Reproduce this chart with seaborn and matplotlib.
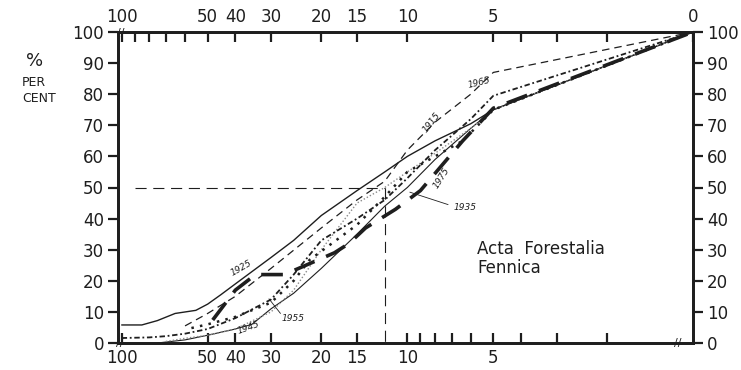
import matplotlib
matplotlib.use("Agg")
import matplotlib.pyplot as plt
import seaborn as sns
import pandas as pd

sns.set_theme(style="white")
plt.rcParams["font.family"] = ["DejaVu Sans"]

# ---------------- data ----------------
x_1915 = [60, 50, 40, 30, 20, 15, 12, 10, 8, 6, 5, 1]
y_1915 = [5.5, 9.5, 15, 24, 37, 46, 52, 62, 71, 80, 87, 100]

x_1925 = [100, 85, 75, 65, 55, 50, 45, 40, 30, 25, 20, 15, 12, 10, 8, 6, 5, 1]
y_1925 = [5.8, 5.8, 7.2, 9.5, 10.5, 12.5, 15.5, 19, 27.5, 33, 41, 49, 55, 60, 65, 70.5, 75, 100]

x_1935 = [75, 60, 50, 40, 35, 30, 25, 20, 15, 12, 10, 8, 6, 5, 1]
y_1935 = [0, 1, 2.5, 4.5, 6, 11, 16, 24, 35, 44, 50, 59, 69, 75, 100]

x_1945 = [70, 60, 50, 40, 30, 25, 20, 15, 12, 10, 8, 6, 5, 1]
y_1945 = [0.5, 1.5, 2.5, 4.5, 10, 17, 30, 45, 50, 55, 61, 69, 75, 100]

x_1955 = [57, 50, 40, 30, 25, 22, 15, 12, 10, 8, 6.4, 5, 1]
y_1955 = [4.8, 6, 8.4, 13, 20, 26.7, 38, 47, 55, 60, 65, 75, 100]

x_1965 = [100, 80, 70, 60, 50, 40, 30, 25, 20, 15, 12, 10, 8, 6, 5, 1]
y_1965 = [1.6, 1.8, 2.2, 3, 4.5, 8, 14, 22, 33, 40, 46, 53, 62, 72, 79.5, 100]

x_1975 = [48, 40, 34, 30, 27, 24, 18, 16, 14, 11, 9, 6.4, 5, 1]
y_1975 = [7.4, 17, 22, 22, 22, 24, 29, 32, 37, 43, 49, 65, 75.5, 100]

years = ["1915", "1925", "1935", "1945", "1955", "1965", "1975"]
series = {
    "1915": (x_1915, y_1915), "1925": (x_1925, y_1925), "1935": (x_1935, y_1935),
    "1945": (x_1945, y_1945), "1955": (x_1955, y_1955), "1965": (x_1965, y_1965),
    "1975": (x_1975, y_1975),
}

# median reference (50 % point)
ref_x = 12
ref_y = 50
ref_start = 90

bottom_ticks = [100, 50, 40, 30, 20, 15, 10, 5]
bottom_labels = ["100", "50", "40", "30", "20", "15", "10", "5"]
bottom_minor = [9, 8, 7, 6, 4, 3, 2]
top_ticks = [100, 50, 40, 30, 20, 15, 10, 5, 1]
top_labels = ["100", "50", "40", "30", "20", "15", "10", "5", "0"]
top_minor = [90, 80, 70, 60, 4, 3, 2]
y_ticks = list(range(0, 101, 10))

# ---------------- styles ----------------
ink = "#1e1e1e"
styles = {
    "1915": dict(color=ink, lw=0.9, linestyle=(0, (6, 4))),
    "1925": dict(color=ink, lw=1.0, linestyle="-"),
    "1935": dict(color=ink, lw=0.8, linestyle="-"),
    "1945": dict(color="#8a8a8a", lw=1.0, linestyle=(0, (1, 1.5))),
    "1955": dict(color=ink, lw=1.8, linestyle=(0, (1, 2.5))),
    "1965": dict(color=ink, lw=1.3, linestyle=(0, (3, 1.5, 1, 1.5))),
    "1975": dict(color=ink, lw=2.6, linestyle=(0, (6, 3.5))),
}

fig = plt.figure(figsize=(7.41, 3.70), dpi=100)
ax = fig.add_axes([118 / 741, 1 - 343 / 370, (693 - 118) / 741, (343 - 32) / 370])

for yr in years:
    xs, ys = series[yr]
    df = pd.DataFrame({"x": xs, "y": ys})
    sns.lineplot(data=df, x="x", y="y", ax=ax, sort=False, estimator=None, **styles[yr])

# reference dashed lines
ax.plot([ref_start, ref_x], [ref_y, ref_y], color=ink, lw=0.8, linestyle=(0, (10, 6)))
ax.plot([ref_x, ref_x], [ref_y, 0], color=ink, lw=0.8, linestyle=(0, (10, 6)))

ax.set_xscale("log")
ax.set_xlim(103, 1)
ax.set_ylim(0, 100)
ax.set_xlabel("")
ax.set_ylabel("")

# bottom x-axis
ax.set_xticks(bottom_ticks)
ax.set_xticklabels(bottom_labels)
ax.set_xticks(bottom_minor, minor=True)
ax.xaxis.set_minor_formatter(matplotlib.ticker.NullFormatter())
ax.tick_params(axis="x", which="both", direction="in", length=7, width=1.6,
               colors=ink, labelsize=12, pad=4, bottom=True, top=False)

# y-axis both sides
ax.set_yticks(y_ticks)
ax.set_yticklabels([str(v) for v in y_ticks])
ax.tick_params(axis="y", which="both", direction="out", length=7, width=1.6,
               colors=ink, labelsize=12, left=True, right=True,
               labelleft=True, labelright=True, pad=3)

# top x-axis
top = ax.twiny()
top.set_xscale("log")
top.set_xlim(103, 1)
top.set_xticks(top_ticks)
top.set_xticklabels(top_labels)
top.set_xticks(top_minor, minor=True)
top.xaxis.set_minor_formatter(matplotlib.ticker.NullFormatter())
top.tick_params(axis="x", which="both", direction="in", length=7, width=1.6,
                colors=ink, labelsize=12, pad=4)
top.grid(False)
ax.grid(False)

for a in (ax, top):
    for s in a.spines.values():
        s.set_linewidth(2.0)
        s.set_color(ink)

# year labels
lab = dict(fontsize=6.5, color=ink, style="italic")
ax.text(8.2, 71, "1915", rotation=52, ha="center", va="center", **lab)
ax.text(38, 24, "1925", rotation=30, ha="center", va="center", **lab)
ax.text(6.9, 43.5, "1935", rotation=0, ha="left", va="center", **lab)
ax.plot([7.2, 9.8], [44.5, 48.5], color=ink, lw=0.6)
ax.text(36, 5.0, "1945", rotation=20, ha="center", va="center", **lab)
ax.text(27.5, 7.8, "1955", rotation=0, ha="left", va="center", **lab)
ax.plot([27.8, 30.5], [9.5, 14.2], color=ink, lw=0.6)
ax.text(5.6, 83.8, "1965", rotation=14, ha="center", va="center", **lab)
ax.text(7.6, 53, "1975", rotation=58, ha="center", va="center", **lab)

# axis break marks
brk = dict(fontsize=8, color=ink, ha="center", va="center")
fig.text(120 / 741, 1 - 343 / 370, "//", **brk)
fig.text(121 / 741, 1 - 33 / 370, "//", **brk)
fig.text(678 / 741, 1 - 343 / 370, "//", **brk)

# axis unit label
fig.text(35 / 741, 1 - 61 / 370, "%", fontsize=13, color=ink, ha="center", va="center")
fig.text(22 / 741, 1 - 82 / 370, "PER", fontsize=9, color=ink, ha="left", va="center")
fig.text(22 / 741, 1 - 99 / 370, "CENT", fontsize=9, color=ink, ha="left", va="center")

# source label
fig.text(477 / 741, 1 - 240 / 370, "Acta  Forestalia\nFennica", fontsize=12, color=ink,
         ha="left", va="top", linespacing=1.05)

fig.savefig("out.png", dpi=100)
